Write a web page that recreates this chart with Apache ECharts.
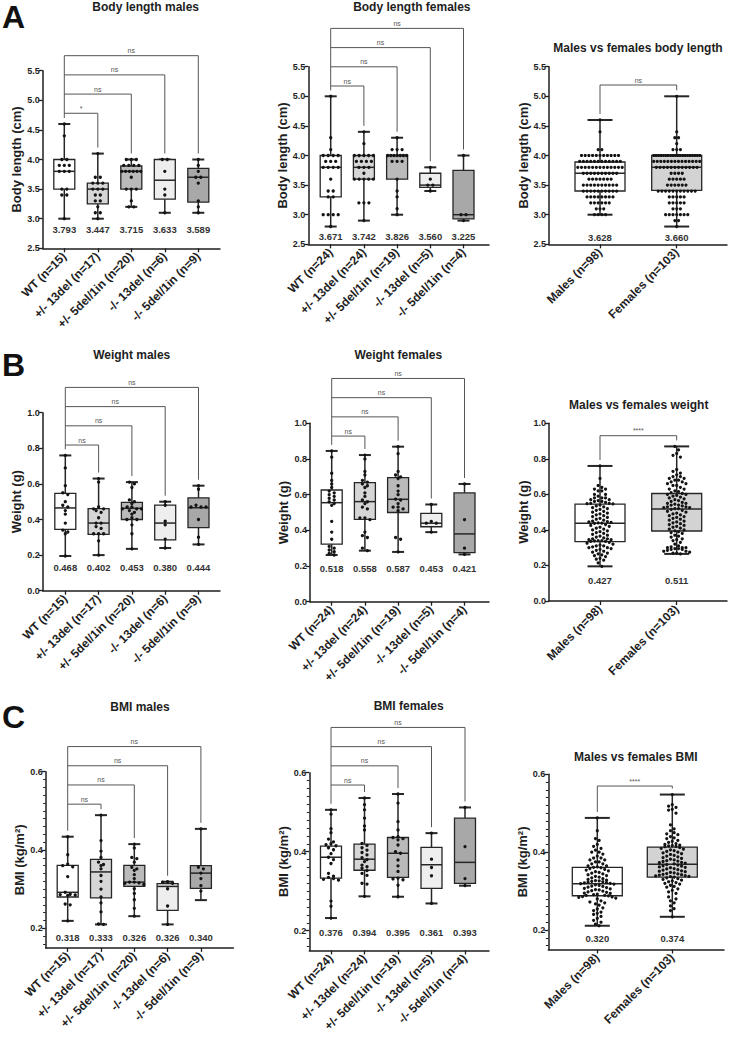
<!DOCTYPE html>
<html><head><meta charset="utf-8">
<script src="https://cdn.jsdelivr.net/npm/echarts@6.0.0/dist/echarts.min.js"></script>
<style>html,body{margin:0;padding:0;background:#fff}#c{width:729px;height:1038px}</style>
</head><body><div id="c"></div>
<script>
const FONT = '"Liberation Sans", Arial, Helvetica, sans-serif';

// ---------- categories ----------
const genoMales = ['WT (n=15)', '+/- 13del (n=17)', '+/- 5del/1in (n=20)', '-/- 13del (n=6)', '-/- 5del/1in (n=9)'];
const genoFemales = ['WT (n=24)', '+/- 13del (n=24)', '+/- 5del/1in (n=19)', '-/- 13del (n=5)', '-/- 5del/1in (n=4)'];
const sexes = ['Males (n=98)', 'Females (n=103)'];

// ---------- box stats [min, Q1, median, Q3, max] ----------
const lengthMalesBox = [[3.0,3.5,3.8,4.0,4.6],[3.0,3.25,3.5,3.6,4.1],[3.2,3.5,3.8,3.89,4.0],[3.1,3.33,3.65,4.0,4.0],[3.1,3.28,3.7,3.85,4.0]];
const lengthFemalesBox = [[2.8,3.3,3.8,4.0,5.0],[2.9,3.6,3.8,4.0,4.4],[3.0,3.6,4.0,4.0,4.3],[3.4,3.46,3.5,3.7,3.8],[2.9,2.93,3.0,3.75,4.0]];
const lengthSexBox = [[3.0,3.4,3.7,3.89,4.6],[2.8,3.41,3.8,4.0,5.0]];
const weightMalesBox = [[0.195,0.345,0.465,0.547,0.76],[0.20,0.316,0.38,0.461,0.63],[0.235,0.40,0.463,0.496,0.61],[0.24,0.285,0.38,0.481,0.50],[0.26,0.354,0.466,0.522,0.59]];
const weightFemalesBox = [[0.262,0.323,0.555,0.626,0.845],[0.286,0.462,0.561,0.667,0.822],[0.279,0.50,0.574,0.695,0.869],[0.39,0.42,0.44,0.495,0.545],[0.265,0.275,0.38,0.61,0.66]];
const weightSexBox = [[0.195,0.334,0.437,0.545,0.76],[0.265,0.394,0.518,0.605,0.87]];
const bmiMalesBox = [[0.219,0.28,0.292,0.361,0.434],[0.21,0.278,0.344,0.376,0.489],[0.231,0.307,0.318,0.361,0.415],[0.21,0.246,0.307,0.314,0.319],[0.272,0.302,0.341,0.36,0.454]];
const bmiFemalesBox = [[0.232,0.333,0.386,0.414,0.506],[0.287,0.353,0.381,0.419,0.536],[0.286,0.335,0.396,0.436,0.546],[0.269,0.307,0.367,0.411,0.447],[0.314,0.32,0.373,0.485,0.512]];
const bmiSexBox = [[0.211,0.288,0.319,0.361,0.488],[0.234,0.336,0.369,0.413,0.548]];

// ---------- mean labels ----------
const lengthMalesMeans = [3.793, 3.447, 3.715, 3.633, 3.589];
const lengthFemalesMeans = [3.671, 3.742, 3.826, 3.560, 3.225];
const lengthSexMeans = [3.628, 3.660];
const weightMalesMeans = [0.468, 0.402, 0.453, 0.380, 0.444];
const weightFemalesMeans = [0.518, 0.558, 0.587, 0.453, 0.421];
const weightSexMeans = [0.427, 0.511];
const bmiMalesMeans = [0.318, 0.333, 0.326, 0.326, 0.340];
const bmiFemalesMeans = [0.376, 0.394, 0.395, 0.361, 0.393];
const bmiSexMeans = [0.320, 0.374];

// ---------- significance (WT vs each group / males vs females) ----------
const lengthMalesSig = ['*', 'ns', 'ns', 'ns'];
const lengthFemalesSig = ['ns', 'ns', 'ns', 'ns'];
const lengthSexSig = ['ns'];
const weightMalesSig = ['ns', 'ns', 'ns', 'ns'];
const weightFemalesSig = ['ns', 'ns', 'ns', 'ns'];
const weightSexSig = ['****'];
const bmiMalesSig = ['ns', 'ns', 'ns', 'ns'];
const bmiFemalesSig = ['ns', 'ns', 'ns', 'ns'];
const bmiSexSig = ['****'];

// ---------- individual points ----------
const lengthMalesPts = [
  [4.6,4.4,4.0,4.0,3.9,3.9,3.9,3.8,3.8,3.8,3.5,3.5,3.4,3.4,3.0],
  [4.1,3.7,3.7,3.6,3.6,3.6,3.5,3.5,3.5,3.4,3.4,3.3,3.3,3.2,3.1,3.1,3.0],
  [4.0,4.0,4.0,3.9,3.9,3.9,3.9,3.8,3.8,3.8,3.8,3.8,3.8,3.7,3.5,3.5,3.5,3.3,3.2,3.2],
  [4.0,4.0,3.8,3.5,3.4,3.1],
  [4.0,3.9,3.8,3.7,3.7,3.6,3.3,3.2,3.1]
];
const lengthFemalesPts = [
  [5.0,4.3,4.1,4.0,4.0,4.0,4.0,3.9,3.9,3.9,3.8,3.8,3.8,3.8,3.6,3.4,3.4,3.3,3.3,3.0,3.0,3.0,3.0,2.8],
  [4.4,4.2,4.0,4.0,4.0,4.0,4.0,3.9,3.9,3.9,3.9,3.8,3.8,3.8,3.7,3.6,3.6,3.6,3.6,3.6,3.2,3.2,3.2,2.9],
  [4.3,4.1,4.1,4.1,4.0,4.0,4.0,4.0,4.0,4.0,4.0,3.9,3.9,3.9,3.6,3.4,3.3,3.1,3.0],
  [3.8,3.6,3.5,3.5,3.4],
  [4.0,3.0,3.0,2.9]
];
const lengthSexPts = [
  [3.0,3.0,3.0,3.0,3.1,3.1,3.1,3.2,3.2,3.2,3.2,3.2,3.2,3.3,3.3,3.3,3.3,3.3,3.3,3.3,3.3,
   3.4,3.4,3.4,3.4,3.4,3.4,3.4,3.4,3.4,3.4,3.5,3.5,3.5,3.5,3.5,3.5,3.5,3.5,3.5,3.5,
   3.6,3.6,3.6,3.6,3.6,3.6,3.6,3.7,3.7,3.7,3.7,3.7,3.7,3.7,3.7,3.7,3.7,
   3.8,3.8,3.8,3.8,3.8,3.8,3.8,3.8,3.8,3.8,3.8,3.8,3.8,3.9,3.9,3.9,3.9,3.9,3.9,3.9,3.9,3.9,3.9,3.9,3.9,
   4.0,4.0,4.0,4.0,4.0,4.0,4.0,4.0,4.0,4.0,4.0,4.1,4.1,4.4,4.6],
  [2.8,2.9,2.9,3.0,3.0,3.0,3.0,3.0,3.0,3.0,3.1,3.1,3.1,3.2,3.2,3.2,3.2,3.2,3.3,3.3,3.3,3.3,3.3,
   3.4,3.4,3.4,3.4,3.4,3.4,3.4,3.4,3.4,3.4,3.4,3.5,3.5,3.5,3.5,3.5,3.5,3.6,3.6,3.6,3.6,3.6,3.7,3.7,3.7,3.7,
   3.8,3.8,3.8,3.8,3.8,3.8,3.8,3.8,3.8,3.8,3.8,3.8,3.9,3.9,3.9,3.9,3.9,3.9,3.9,3.9,3.9,3.9,3.9,3.9,3.9,3.9,
   4.0,4.0,4.0,4.0,4.0,4.0,4.0,4.0,4.0,4.0,4.0,4.0,4.0,4.0,4.0,4.0,4.0,4.0,4.0,4.0,
   4.1,4.1,4.1,4.2,4.3,4.3,4.4,5.0]
];
const weightMalesPts = [
  [0.76,0.69,0.59,0.55,0.54,0.50,0.48,0.47,0.45,0.43,0.38,0.34,0.33,0.32,0.195],
  [0.63,0.61,0.47,0.46,0.46,0.45,0.44,0.41,0.38,0.38,0.36,0.35,0.32,0.32,0.32,0.28,0.20],
  [0.61,0.60,0.58,0.51,0.50,0.49,0.47,0.47,0.46,0.46,0.46,0.45,0.44,0.43,0.41,0.40,0.40,0.37,0.32,0.235],
  [0.50,0.48,0.39,0.37,0.29,0.24],
  [0.59,0.57,0.48,0.47,0.47,0.47,0.40,0.30,0.26]
];
const weightFemalesPts = [
  [0.845,0.81,0.72,0.68,0.66,0.64,0.62,0.61,0.60,0.59,0.58,0.57,0.56,0.55,0.54,0.45,0.39,0.35,0.31,0.30,0.29,0.28,0.27,0.262],
  [0.822,0.80,0.73,0.71,0.68,0.67,0.66,0.65,0.64,0.61,0.59,0.57,0.56,0.55,0.53,0.52,0.47,0.47,0.46,0.39,0.37,0.36,0.30,0.286],
  [0.869,0.83,0.73,0.71,0.70,0.69,0.65,0.62,0.60,0.575,0.57,0.55,0.53,0.53,0.52,0.51,0.36,0.35,0.279],
  [0.545,0.45,0.44,0.44,0.39],
  [0.66,0.46,0.30,0.265]
];
const weightSexPts = [
  [0.76,0.69,0.65,0.64,0.63,0.63,0.62,0.62,0.60,0.60,0.59,0.58,0.58,0.58,0.57,0.57,0.565,0.56,0.56,0.555,0.55,0.55,0.548,0.546,
   0.54,0.535,0.53,0.525,0.52,0.515,0.51,0.505,0.50,0.495,0.49,0.485,0.48,0.475,0.47,0.465,0.46,0.455,0.45,0.447,0.445,0.442,0.44,0.438,0.437,
   0.43,0.425,0.42,0.415,0.41,0.405,0.40,0.395,0.39,0.385,0.38,0.375,0.37,0.365,0.36,0.355,0.35,0.35,0.345,0.345,0.34,0.34,0.338,0.335,0.335,
   0.33,0.325,0.32,0.315,0.31,0.31,0.305,0.30,0.30,0.295,0.29,0.285,0.28,0.275,0.27,0.265,0.26,0.255,0.25,0.24,0.235,0.23,0.215,0.195],
  [0.87,0.85,0.83,0.82,0.81,0.74,0.73,0.72,0.71,0.70,0.70,0.69,0.69,0.68,0.68,0.67,0.67,0.66,0.66,0.65,0.65,0.64,0.63,0.63,0.62,0.615,
   0.61,0.605,0.60,0.60,0.595,0.59,0.585,0.58,0.575,0.57,0.565,0.56,0.555,0.55,0.55,0.545,0.54,0.54,0.535,0.53,0.53,0.525,0.525,0.52,0.52,
   0.515,0.51,0.505,0.50,0.495,0.49,0.485,0.48,0.475,0.47,0.465,0.46,0.455,0.45,0.445,0.44,0.435,0.43,0.425,0.42,0.415,0.41,0.405,0.40,0.395,0.39,
   0.385,0.38,0.37,0.365,0.36,0.35,0.345,0.34,0.33,0.32,0.31,0.305,0.30,0.30,0.30,0.295,0.295,0.29,0.29,0.285,0.28,0.28,0.275,0.27,0.27,0.265]
];
const bmiMalesPts = [
  [0.434,0.388,0.376,0.364,0.36,0.357,0.332,0.292,0.287,0.286,0.285,0.284,0.262,0.26,0.219],
  [0.489,0.424,0.397,0.381,0.369,0.363,0.36,0.352,0.344,0.335,0.32,0.30,0.28,0.265,0.242,0.211,0.21],
  [0.415,0.405,0.381,0.378,0.369,0.356,0.352,0.348,0.337,0.327,0.318,0.318,0.316,0.315,0.312,0.301,0.289,0.273,0.251,0.231],
  [0.319,0.318,0.315,0.301,0.257,0.21],
  [0.454,0.367,0.356,0.352,0.341,0.327,0.309,0.295,0.272]
];
const bmiFemalesPts = [
  [0.506,0.495,0.458,0.448,0.432,0.425,0.42,0.418,0.415,0.41,0.405,0.395,0.386,0.38,0.37,0.345,0.338,0.335,0.332,0.33,0.328,0.275,0.262,0.232],
  [0.536,0.519,0.506,0.485,0.465,0.455,0.421,0.416,0.41,0.404,0.398,0.392,0.385,0.38,0.375,0.366,0.362,0.358,0.352,0.345,0.34,0.32,0.318,0.287],
  [0.546,0.523,0.476,0.455,0.438,0.436,0.433,0.43,0.417,0.40,0.396,0.379,0.364,0.35,0.333,0.331,0.329,0.315,0.286],
  [0.447,0.381,0.36,0.339,0.269],
  [0.512,0.413,0.332,0.314]
];
const bmiSexPts = [
  [0.488,0.455,0.435,0.43,0.42,0.415,0.41,0.405,0.40,0.40,0.395,0.39,0.385,0.385,0.38,0.38,0.375,0.375,0.37,0.37,0.365,0.365,0.362,0.361,
   0.36,0.358,0.356,0.354,0.352,0.35,0.348,0.346,0.344,0.342,0.34,0.338,0.336,0.334,0.332,0.33,0.328,0.327,0.326,0.325,0.324,0.323,0.322,0.321,0.32,
   0.319,0.318,0.316,0.315,0.313,0.312,0.31,0.309,0.307,0.306,0.304,0.303,0.301,0.3,0.298,0.297,0.295,0.294,0.292,0.291,0.29,0.29,0.289,0.289,0.288,
   0.286,0.285,0.284,0.282,0.28,0.278,0.275,0.272,0.27,0.267,0.264,0.26,0.257,0.254,0.25,0.246,0.243,0.24,0.235,0.23,0.225,0.22,0.215,0.211],
  [0.548,0.522,0.518,0.515,0.51,0.508,0.50,0.47,0.46,0.455,0.45,0.447,0.445,0.44,0.437,0.435,0.43,0.428,0.425,0.422,0.42,0.418,0.417,0.416,0.415,0.414,
   0.412,0.41,0.408,0.406,0.404,0.402,0.40,0.398,0.396,0.394,0.392,0.39,0.388,0.386,0.384,0.382,0.38,0.378,0.377,0.376,0.374,0.373,0.372,0.371,0.37,
   0.368,0.367,0.365,0.364,0.362,0.361,0.36,0.358,0.357,0.355,0.354,0.352,0.351,0.35,0.348,0.347,0.345,0.344,0.343,0.342,0.341,0.34,0.339,0.338,0.337,0.336,
   0.334,0.332,0.33,0.328,0.326,0.324,0.322,0.32,0.318,0.315,0.312,0.31,0.306,0.302,0.298,0.294,0.29,0.285,0.28,0.275,0.27,0.262,0.255,0.25,0.242,0.234]
];

// ---------- styles / layout ----------
const genoColors = ['#ffffff', '#d6d6d6', '#bababa', '#eeeeee', '#a8a8a8'];
const sexColors = ['#ffffff', '#d3d3d3'];
const small = {boxW: 21, capW: 12, dotD: 5, rowW: 19, binH: 3, dotR: 1.65, brStep: 19.2, legGap: 6};
const big = {boxW: 50, capW: 25, dotD: 3.7, rowW: 46, binH: 4.2, dotR: 1.6, brStep: 19.2, legGap: 6};
const yLen = {min: 2.5, max: 5.5, interval: 0.5};
const yWt = {min: 0, max: 1, interval: 0.2};
const yBmi = {min: 0.15, max: 0.6, labels: [0.2, 0.4, 0.6]};

const panels = [
  {title: 'Body length males', yName: 'Body length (cm)', cats: genoMales, box: lengthMalesBox, pts: lengthMalesPts, means: lengthMalesMeans, sig: lengthMalesSig, colors: genoColors, y: yLen,
   L: Object.assign({}, small, {left: 42.7, top: 70.7, width: 177.3, height: 177.6, x0: 64.3, dx: 33.5, meanY: 2.82, brGap: 10.7, nameGap: 19, tx: 145.7, ty: 7})},
  {title: 'Body length females', yName: 'Body length (cm)', cats: genoFemales, box: lengthFemalesBox, pts: lengthFemalesPts, means: lengthFemalesMeans, sig: lengthFemalesSig, colors: genoColors, y: yLen,
   L: Object.assign({}, small, {left: 308.3, top: 66.7, width: 180.7, height: 177.6, x0: 330.7, dx: 33.2, meanY: 2.63, brGap: 10.3, nameGap: 19, tx: 411.8, ty: 7})},
  {title: 'Males vs females body length', yName: 'Body length (cm)', cats: sexes, box: lengthSexBox, pts: lengthSexPts, means: lengthSexMeans, sig: lengthSexSig, colors: sexColors, y: yLen,
   L: Object.assign({}, big, {left: 549, top: 66.7, width: 178, height: 177.6, x0: 600, dx: 76.7, meanY: 2.62, brGap: 11.3, nameGap: 19.5, tx: 638, ty: 48})},
  {title: 'Weight males', yName: 'Weight (g)', cats: genoMales, box: weightMalesBox, pts: weightMalesPts, means: weightMalesMeans, sig: weightMalesSig, colors: genoColors, y: yWt,
   L: Object.assign({}, small, {left: 42.7, top: 412.7, width: 177.3, height: 178, x0: 65.3, dx: 33.3, meanY: 0.129, brGap: 10.4, nameGap: 20, tx: 131.7, ty: 354.7})},
  {title: 'Weight females', yName: 'Weight (g)', cats: genoFemales, box: weightFemalesBox, pts: weightFemalesPts, means: weightFemalesMeans, sig: weightFemalesSig, colors: genoColors, y: yWt,
   L: Object.assign({}, small, {left: 310, top: 423.3, width: 179, height: 178.4, x0: 331.7, dx: 33.2, meanY: 0.187, brGap: 10.6, nameGap: 20, tx: 398.3, ty: 354.7})},
  {title: 'Males vs females weight', yName: 'Weight (g)', cats: sexes, box: weightSexBox, pts: weightSexPts, means: weightSexMeans, sig: weightSexSig, colors: sexColors, y: yWt,
   L: Object.assign({}, big, {left: 549, top: 423.3, width: 178, height: 177.7, x0: 600, dx: 76.7, meanY: 0.114, brGap: 10.7, nameGap: 19.5, tx: 638.7, ty: 405})},
  {title: 'BMI males', yName: 'BMI (kg/m²)', cats: genoMales, box: bmiMalesBox, pts: bmiMalesPts, means: bmiMalesMeans, sig: bmiMalesSig, colors: genoColors, y: yBmi,
   L: Object.assign({}, small, {left: 45.7, top: 771.7, width: 187.6, height: 176.2, x0: 67.7, dx: 33.3, meanY: 0.176, brGap: 11, nameGap: 19, tx: 140, ty: 707})},
  {title: 'BMI females', yName: 'BMI (kg/m²)', cats: genoFemales, box: bmiFemalesBox, pts: bmiFemalesPts, means: bmiFemalesMeans, sig: bmiFemalesSig, colors: genoColors, y: yBmi,
   L: Object.assign({}, small, {left: 309.3, top: 772.7, width: 179.7, height: 177.75, x0: 331, dx: 33.5, meanY: 0.195, brGap: 9, nameGap: 19, tx: 408.7, ty: 706})},
  {title: 'Males vs females BMI', yName: 'BMI (kg/m²)', cats: sexes, box: bmiSexBox, pts: bmiSexPts, means: bmiSexMeans, sig: bmiSexSig, colors: sexColors, y: yBmi,
   L: Object.assign({}, big, {left: 548.3, top: 774.3, width: 175.7, height: 175.2, x0: 597.3, dx: 75, meanY: 0.177, brGap: 8.5, nameGap: 19.5, tx: 635.8, ty: 757})}
];
const letters = [{t: 'A', x: 2, y: 17}, {t: 'B', x: 2, y: 365}, {t: 'C', x: 2, y: 717}];

// ---------- builders ----------
const AX = '#1e1e1e';
function gridOf(p) { return {left: p.L.left, top: p.L.top, width: p.L.width, height: p.L.height, containLabel: false}; }
function xAxisOf(p, gi) {
  const L = p.L;
  const idx = p.cats.map((c, i) => i);
  return {
    type: 'value', gridIndex: gi,
    min: (L.left - L.x0) / L.dx, max: (L.left + L.width - L.x0) / L.dx,
    splitLine: {show: false},
    axisLine: {show: true, onZero: false, lineStyle: {color: AX, width: 1.5}},
    axisTick: {show: true, length: 4, customValues: idx, lineStyle: {color: AX, width: 1.3}},
    axisLabel: {show: true, customValues: idx, rotate: 45, margin: 6, fontSize: 12, fontWeight: 'bold', color: '#1e1e1e', fontFamily: FONT,
      formatter: v => (Number.isInteger(v) && p.cats[v] !== undefined) ? p.cats[v] : ''}
  };
}
function yAxisOf(p, gi) {
  const y = p.y;
  const ax = {
    type: 'value', gridIndex: gi, min: y.min, max: y.max,
    name: p.yName, nameLocation: 'middle', nameGap: p.L.nameGap,
    nameTextStyle: {fontSize: 13, fontWeight: 'bold', color: '#1e1e1e', fontFamily: FONT},
    splitLine: {show: false},
    axisLine: {show: true, onZero: false, lineStyle: {color: AX, width: 1.5}},
    axisTick: {show: true, length: 4, lineStyle: {color: AX, width: 1.3}},
    axisLabel: {fontSize: 9, fontWeight: 'bold', color: '#1e1e1e', margin: 3, fontFamily: FONT, formatter: v => v.toFixed(1)}
  };
  if (y.interval) { ax.interval = y.interval; }
  else {
    ax.splitNumber = 2;
    ax.axisLabel.customValues = y.labels;
    ax.axisTick.customValues = y.labels;
    ax.axisLabel.formatter = v => (Math.abs(v * 5 - Math.round(v * 5)) < 1e-6 ? v.toFixed(1) : '');
    ax.minorTick = {show: true, splitNumber: 10, length: 2.5, lineStyle: {color: AX, width: 1}};
  }
  return ax;
}
function boxSeries(p, gi) {
  const L = p.L;
  return {
    type: 'custom', xAxisIndex: gi, yAxisIndex: gi, clip: false, z: 3, silent: true,
    data: p.box.map((s, i) => [i, s[2]]), encode: {x: 0, y: 1},
    renderItem: function (params, api) {
      const i = params.dataIndex;
      const s = p.box[i];
      const cx = api.coord([i, s[2]])[0];
      const Y = v => api.coord([i, v])[1];
      const hw = L.boxW / 2, cw = L.capW / 2, S = '#262626';
      const ch = [];
      const ln = (x1, y1, x2, y2, w) => ch.push({type: 'line', shape: {x1: x1, y1: y1, x2: x2, y2: y2}, style: {stroke: S, lineWidth: w}});
      ln(cx, Y(s[4]), cx, Y(s[3]), 1.5);
      ln(cx, Y(s[1]), cx, Y(s[0]), 1.5);
      ln(cx - cw, Y(s[4]), cx + cw, Y(s[4]), 2);
      ln(cx - cw, Y(s[0]), cx + cw, Y(s[0]), 2);
      ch.push({type: 'rect', shape: {x: cx - hw, y: Y(s[3]), width: 2 * hw, height: Y(s[1]) - Y(s[3])}, style: {fill: p.colors[i], stroke: S, lineWidth: 1.3}});
      ln(cx - hw, Y(s[2]), cx + hw, Y(s[2]), 1.5);
      // scatter of individual animals, spread in rows
      const ys = p.pts[i].map(Y).sort((a, b) => a - b);
      const rows = []; let cur = null;
      ys.forEach(v => { if (cur && v - cur[0] < L.binH) cur.push(v); else { cur = [v]; rows.push(cur); } });
      rows.forEach(r => {
        const n = r.length;
        const sp = n > 1 ? Math.min(L.dotD, L.rowW / (n - 1)) : 0;
        const slots = [];
        for (let k = 0; k < n; k++) slots.push((k - (n - 1) / 2) * sp);
        slots.sort((a, b) => Math.abs(a) - Math.abs(b) || a - b);
        r.forEach((v, k) => ch.push({type: 'circle', shape: {cx: cx + slots[k], cy: v, r: L.dotR}, style: {fill: '#141414'}}));
      });
      ch.push({type: 'text', x: cx, y: Y(L.meanY), style: {text: p.means[i].toFixed(3), fontSize: 9.5, fontWeight: 'bold', fontFamily: FONT, fill: '#333', align: 'center', verticalAlign: 'middle', textAlign: 'center', textVerticalAlign: 'middle'}});
      return {type: 'group', children: ch};
    }
  };
}
function bracketSeries(p, gi) {
  const L = p.L;
  return {
    type: 'custom', xAxisIndex: gi, yAxisIndex: gi, clip: false, z: 2, silent: true,
    data: [[0, p.box[0][4]]], encode: {x: 0, y: 1},
    renderItem: function (params, api) {
      const tops = p.box.map(s => s[4]);
      const gmax = Math.max.apply(null, tops);
      const base = api.coord([0, gmax]);
      const x0 = base[0];
      const y1 = base[1] - L.brGap;
      const n = p.sig.length;
      const C = '#555555';
      const ch = [];
      const ln = (a, b, c, d) => ch.push({type: 'line', shape: {x1: a, y1: b, x2: c, y2: d}, style: {stroke: C, lineWidth: 1}});
      ln(x0, y1 - (n - 1) * L.brStep, x0, api.coord([0, tops[0]])[1] - L.legGap);
      p.sig.forEach((s, k) => {
        const yb = y1 - k * L.brStep;
        const pj = api.coord([k + 1, tops[k + 1]]);
        ln(x0, yb, pj[0], yb);
        ln(pj[0], yb, pj[0], pj[1] - L.legGap);
        ch.push({type: 'text', x: (x0 + pj[0]) / 2, y: yb - 1.5, style: {text: s, fontSize: 7, fill: '#555555', fontFamily: FONT, align: 'center', verticalAlign: 'bottom', textAlign: 'center', textVerticalAlign: 'bottom'}});
      });
      return {type: 'group', children: ch};
    }
  };
}

const graphics = [];
panels.forEach(p => graphics.push({type: 'text', x: p.L.tx, y: p.L.ty, style: {text: p.title, fontSize: 12, fontWeight: 'bold', fill: '#1e1e1e', fontFamily: FONT, align: 'center', verticalAlign: 'middle', textAlign: 'center', textVerticalAlign: 'middle'}}));
letters.forEach(l => graphics.push({type: 'text', x: l.x, y: l.y, style: {text: l.t, fontSize: 32, fontWeight: 'bold', fill: '#111', fontFamily: FONT, align: 'left', verticalAlign: 'middle', textAlign: 'left', textVerticalAlign: 'middle'}}));

const option = {
  animation: false,
  backgroundColor: '#ffffff',
  grid: panels.map(gridOf),
  xAxis: panels.map(xAxisOf),
  yAxis: panels.map(yAxisOf),
  series: [].concat(...panels.map((p, gi) => [bracketSeries(p, gi), boxSeries(p, gi)])),
  graphic: graphics
};
const chart = echarts.init(document.getElementById('c'), null, {renderer: 'svg', width: 729, height: 1038});
chart.setOption(option);
</script>
</body></html>
